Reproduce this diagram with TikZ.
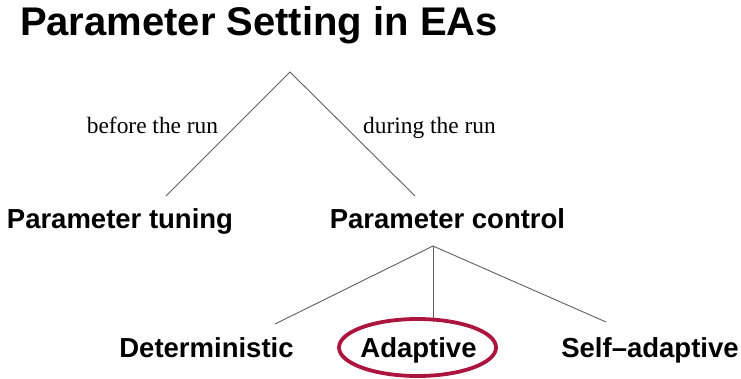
\documentclass[tikz,border=0pt]{standalone}
\usepackage{fontspec}
\setmainfont{Liberation Serif}
\setsansfont{Liberation Sans}
\definecolor{linegray}{RGB}{95,95,95}
\definecolor{markred}{RGB}{172,22,62}
\begin{document}
\begin{tikzpicture}[x=1pt,y=1pt,
  title/.style={inner sep=0pt,anchor=base,font=\sffamily\bfseries\fontsize{40}{44}\selectfont},
  item/.style={inner sep=0pt,anchor=base,font=\sffamily\bfseries\fontsize{27.5}{30}\selectfont},
  edgelabel/.style={inner sep=0pt,anchor=base,font=\rmfamily\fontsize{23.4}{26}\selectfont},
  branch/.style={draw=linegray,line width=0.9pt},
  highlight/.style={draw=markred,line width=3.8pt}]
\useasboundingbox (0,0) rectangle (741,-379);

\node[title] (head) at (259,-36) {Parameter Setting in EAs};

% first level: tuning vs. control
\coordinate (root) at (290,-72);
\coordinate (tuneend) at (166,-196);
\coordinate (ctrlend) at (415,-196);
\draw[branch] (tuneend) -- (root) -- (ctrlend);
\node[edgelabel] (before) at (152.5,-134) {before the run};
\node[edgelabel] (during) at (429.5,-134) {during the run};
\node[item] (tuning) at (120,-229) {Parameter tuning};
\node[item] (control) at (447.5,-229) {Parameter control};

% second level: kinds of parameter control
\coordinate (croot) at (433,-246);
\coordinate (detend) at (275,-324);
\coordinate (adaend) at (433,-322);
\coordinate (selfend) at (606,-322);
\draw[branch] (detend) -- (croot) -- (selfend);
\draw[branch] (croot) -- (adaend);
\node[item] (det) at (206.5,-357) {Deterministic};
\node[item] (ada) at (418.5,-357) {Adaptive};
\node[item] (self) at (650,-357) {Self–adaptive};

% ring around the adaptive branch
\draw[highlight] (417.5,-347.5) ellipse [x radius=78.5, y radius=28.5];
\end{tikzpicture}
\end{document}
